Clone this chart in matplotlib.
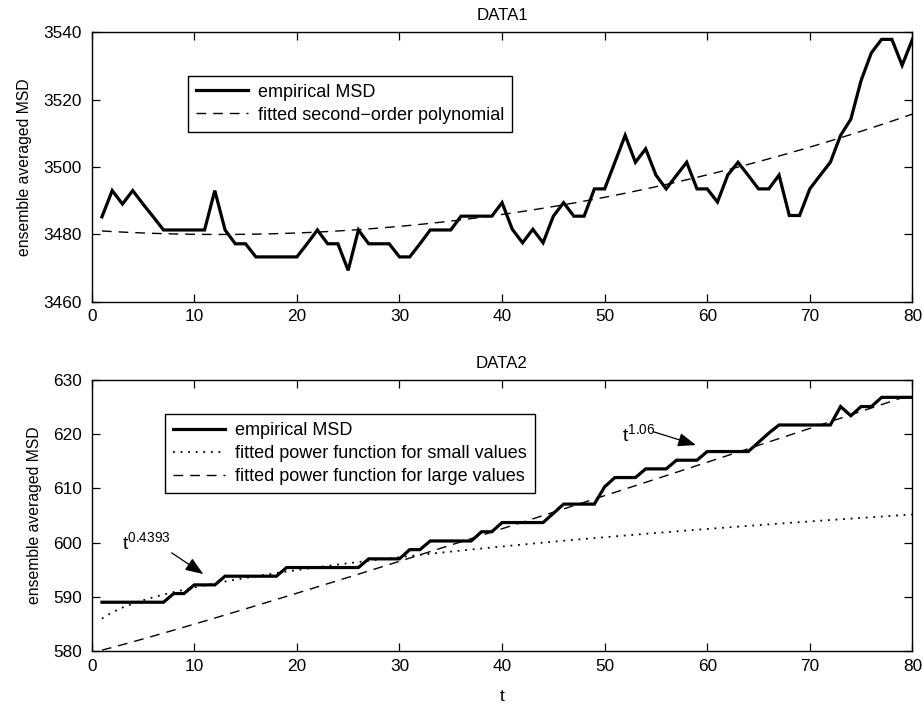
import numpy as np
import matplotlib
matplotlib.use("Agg")
import matplotlib.pyplot as plt

plt.rcParams['font.family'] = ['Liberation Sans', 'DejaVu Sans']
plt.rcParams['mathtext.default'] = 'regular'

# ---------------- data ----------------
t = list(range(1, 81))

msd1 = [3485.2, 3493.0, 3489.0, 3493.0, 3489.0, 3485.2, 3481.3, 3481.3, 3481.3, 3481.3,
        3481.3, 3493.0, 3481.3, 3477.2, 3477.2, 3473.3, 3473.3, 3473.3, 3473.3, 3473.3,
        3477.2, 3481.3, 3477.2, 3477.2, 3469.3, 3481.3, 3477.2, 3477.2, 3477.2, 3473.3,
        3473.3, 3477.2, 3481.3, 3481.3, 3481.3, 3485.4, 3485.4, 3485.4, 3485.4, 3489.4,
        3481.5, 3477.5, 3481.5, 3477.5, 3485.4, 3489.4, 3485.4, 3485.4, 3493.5, 3493.5,
        3501.4, 3509.4, 3501.4, 3505.4, 3497.6, 3493.5, 3497.5, 3501.4, 3493.5, 3493.5,
        3489.6, 3497.6, 3501.4, 3497.5, 3493.5, 3493.5, 3497.6, 3485.6, 3485.6, 3493.5,
        3497.5, 3501.4, 3509.4, 3514.2, 3525.7, 3533.9, 3537.9, 3537.9, 3530.2, 3537.9]

msd2 = [589.0, 589.0, 589.0, 589.0, 589.0, 589.0, 589.0, 590.6, 590.6, 592.2,
        592.2, 592.2, 593.8, 593.8, 593.8, 593.8, 593.8, 593.8, 595.4, 595.4,
        595.4, 595.4, 595.4, 595.4, 595.4, 595.4, 597.0, 597.0, 597.0, 597.0,
        598.7, 598.7, 600.3, 600.3, 600.3, 600.3, 600.3, 602.0, 602.0, 603.7,
        603.7, 603.7, 603.7, 603.7, 605.4, 607.1, 607.1, 607.1, 607.1, 610.3,
        612.0, 612.0, 612.0, 613.6, 613.6, 613.6, 615.2, 615.2, 615.2, 616.8,
        616.8, 616.8, 616.8, 616.8, 618.5, 620.2, 621.7, 621.7, 621.7, 621.7,
        621.7, 621.7, 625.1, 623.4, 625.1, 625.1, 626.8, 626.8, 626.8, 626.8]

# fitted second-order polynomial coefficients (highest power first)
poly_fit = [0.00784, -0.1957, 3481.19]
# fitted power functions (offset, coefficient, exponent)
small_fit = (582.7, 3.28, 0.4393)
large_fit = (579.7, 0.458, 1.06)

titles = ["DATA1", "DATA2"]
ylabel = "ensemble averaged MSD"
legend1 = ["empirical MSD", "fitted second\u2212order polynomial"]
legend2 = ["empirical MSD", "fitted power function for small values",
           "fitted power function for large values"]
xticks = [0, 10, 20, 30, 40, 50, 60, 70, 80]
yticks1 = [3460, 3480, 3500, 3520, 3540]
yticks2 = [580, 590, 600, 610, 620, 630]

# ---------------- figure ----------------
W, H = 923, 705
fig = plt.figure(figsize=(W / 100, H / 100), dpi=100)

def px_axes(x0, y0, x1, y1):
    return fig.add_axes([x0 / W, 1 - y1 / H, (x1 - x0) / W, (y1 - y0) / H])

ax1 = px_axes(91.7, 32.3, 912.4, 301.7)
ax2 = px_axes(91.7, 380.0, 912.4, 651.0)

FS_TICK = 12.4
FS_LAB = 11.3
FS_TITLE = 12.2
FS_LEG = 13
tt = np.array(t, dtype=float)

def style(ax, yt):
    ax.set_xlim(0, 80)
    ax.set_xticks(xticks)
    ax.set_yticks(yt)
    ax.set_ylim(yt[0], yt[-1])
    ax.tick_params(direction='in', length=6, width=0.9, top=True, right=True,
                   labelsize=FS_TICK, colors='black')
    ax.tick_params(axis='y', pad=7)
    ax.tick_params(axis='x', pad=5.5)
    for s in ax.spines.values():
        s.set_linewidth(1.0)
    ax.set_ylabel(ylabel, fontsize=FS_LAB, labelpad=8)

leg_kw = dict(loc='upper left', borderaxespad=0, fontsize=FS_LEG, handlelength=2.86,
              handletextpad=0.55, labelspacing=0.32, fancybox=False, framealpha=1,
              edgecolor='black', borderpad=0.45)

# top
fit1 = np.polyval(poly_fit, tt)
ax1.plot(t, msd1, color='black', lw=2.3, solid_joinstyle='miter', label=legend1[0])
ax1.plot(t, fit1, color='black', lw=1.0, dashes=(7, 5), label=legend1[1])
style(ax1, yticks1)
ax1.set_title(titles[0], fontsize=FS_TITLE, pad=9)
leg = ax1.legend(bbox_to_anchor=(0.1177, 0.839), **leg_kw)
leg.get_frame().set_linewidth(1.0)

# bottom
sm = small_fit[0] + small_fit[1] * tt ** small_fit[2]
lg = large_fit[0] + large_fit[1] * tt ** large_fit[2]
ax2.plot(t, msd2, color='black', lw=2.3, solid_joinstyle='miter', label=legend2[0])
ax2.plot(t, sm, color='black', lw=1.3, linestyle=(0, (1.0, 3.2)), label=legend2[1])
ax2.plot(t, lg, color='black', lw=1.0, dashes=(7, 5), label=legend2[2])
style(ax2, yticks2)
ax2.set_title(titles[1], fontsize=FS_TITLE, pad=9)
ax2.set_xlabel("t", fontsize=FS_TICK, labelpad=11)
leg2 = ax2.legend(bbox_to_anchor=(0.0897, 0.8734), **leg_kw)
leg2.get_frame().set_linewidth(1.0)

arrow = dict(arrowstyle='-|>,head_length=1.1,head_width=0.42', color='black',
             lw=0.9, shrinkA=0, shrinkB=0)
ax2.annotate('', xy=(10.88, 594.2), xytext=(7.80, 598.1), arrowprops=arrow)
ax2.text(2.95, 598.8, r'$t^{0.4393}$', fontsize=14, va='baseline', ha='left')
ax2.annotate('', xy=(58.9, 618.0), xytext=(54.74, 620.46), arrowprops=arrow)
ax2.text(51.65, 618.8, r'$t^{1.06}$', fontsize=14, va='baseline', ha='left')

fig.savefig("out.png", dpi=100)
